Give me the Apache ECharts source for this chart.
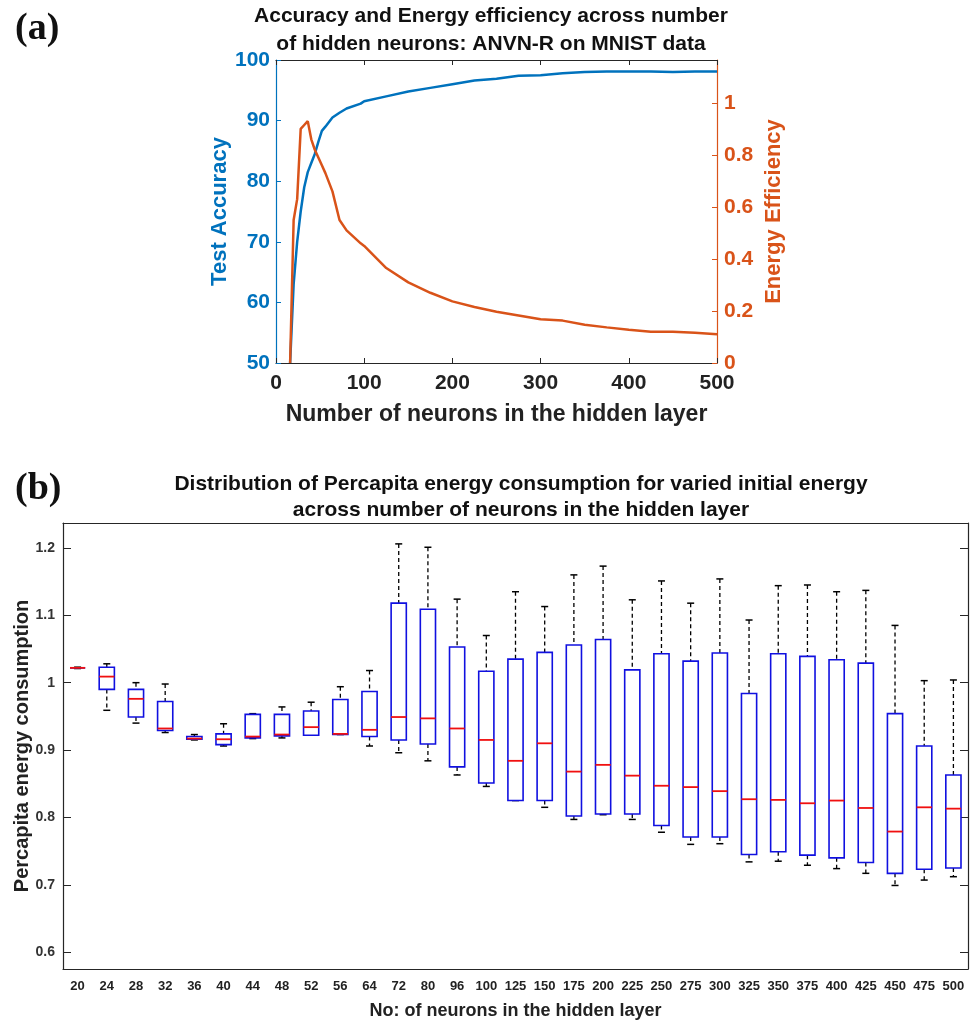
<!DOCTYPE html>
<html>
<head>
<meta charset="utf-8">
<script src="https://cdn.jsdelivr.net/npm/echarts@6/dist/echarts.min.js"></script>
<style>
  html, body { margin: 0; padding: 0; background: #fff; }
  #main { width: 971px; height: 1021px; }
</style>
</head>
<body>
<div id="main"></div>
<script>
// (a) accuracy / efficiency vs hidden neurons
var neurons = [16, 20, 24, 28, 32, 36, 40, 44, 48, 52, 56, 64, 72, 80, 96, 100, 125, 150, 175, 200, 225, 250, 275, 300, 325, 350, 375, 400, 425, 450, 475, 500];
var accuracy = [50, 63, 70, 75, 79, 81.5, 83, 84.5, 86.5, 88.3, 89, 90.5, 91.3, 92, 92.8, 93.2, 94.0, 94.8, 95.4, 96.0, 96.6, 96.9, 97.4, 97.5, 97.8, 98.0, 98.1, 98.1, 98.1, 98.0, 98.1, 98.1];
var efficiency = [0, 0.55, 0.63, 0.90, 0.915, 0.93, 0.86, 0.82, 0.79, 0.76, 0.73, 0.66, 0.55, 0.51, 0.46, 0.45, 0.365, 0.31, 0.27, 0.237, 0.215, 0.197, 0.183, 0.168, 0.163, 0.147, 0.137, 0.128, 0.12, 0.12, 0.116, 0.111];
var effTicks = [0, 0.2, 0.4, 0.6, 0.8, 1];

// (b) box plot per hidden layer size
var categories = ['20', '24', '28', '32', '36', '40', '44', '48', '52', '56', '64', '72', '80', '96', '100', '125', '150', '175', '200', '225', '250', '275', '300', '325', '350', '375', '400', '425', '450', '475', '500'];
var boxMin = [1.021, 0.959, 0.940, 0.926, 0.915, 0.906, 0.917, 0.918, 0.922, 0.923, 0.906, 0.896, 0.884, 0.863, 0.846, 0.825, 0.815, 0.797, 0.804, 0.797, 0.778, 0.760, 0.761, 0.734, 0.735, 0.729, 0.724, 0.717, 0.699, 0.707, 0.712];
var boxQ1 = [1.022, 0.990, 0.949, 0.929, 0.916, 0.908, 0.918, 0.921, 0.922, 0.923, 0.920, 0.915, 0.909, 0.875, 0.851, 0.825, 0.825, 0.802, 0.805, 0.805, 0.788, 0.771, 0.771, 0.745, 0.749, 0.744, 0.740, 0.733, 0.717, 0.723, 0.725];
var boxMed = [1.022, 1.009, 0.976, 0.932, 0.917, 0.916, 0.920, 0.923, 0.934, 0.924, 0.930, 0.949, 0.947, 0.932, 0.915, 0.884, 0.910, 0.868, 0.878, 0.862, 0.847, 0.845, 0.839, 0.827, 0.826, 0.821, 0.825, 0.814, 0.779, 0.815, 0.813];
var boxQ3 = [1.022, 1.023, 0.990, 0.972, 0.920, 0.924, 0.953, 0.953, 0.958, 0.975, 0.987, 1.118, 1.109, 1.053, 1.017, 1.035, 1.045, 1.056, 1.064, 1.019, 1.043, 1.032, 1.044, 0.984, 1.043, 1.039, 1.034, 1.029, 0.954, 0.906, 0.863];
var boxMax = [1.023, 1.028, 1.000, 0.998, 0.923, 0.939, 0.954, 0.964, 0.971, 0.994, 1.018, 1.206, 1.201, 1.124, 1.070, 1.135, 1.113, 1.160, 1.173, 1.123, 1.151, 1.118, 1.154, 1.093, 1.144, 1.145, 1.135, 1.137, 1.085, 1.003, 1.004];
var consTicks = [0.6, 0.7, 0.8, 0.9, 1, 1.1, 1.2];

var chart = echarts.init(document.getElementById('main'));

var font = 'Liberation Sans, Arial, sans-serif';
var serif = 'Liberation Serif, Times New Roman, serif';
var blue = '#0072BD';
var orange = '#D95319';
var frame = '#262626';

var accData = neurons.map(function (n, i) { return [n, accuracy[i]]; });
var effData = neurons.map(function (n, i) { return [n, efficiency[i]]; });
var boxData = categories.map(function (c, i) {
  return [i, boxMin[i], boxQ1[i], boxMed[i], boxQ3[i], boxMax[i]];
});

function renderBox(params, api) {
  var i = api.value(0);
  var band = api.size([1, 0])[0];
  var half = band * 0.26;
  var cap = band * 0.12;
  var pMin = api.coord([i, api.value(1)]);
  var pQ1 = api.coord([i, api.value(2)]);
  var pMed = api.coord([i, api.value(3)]);
  var pQ3 = api.coord([i, api.value(4)]);
  var pMax = api.coord([i, api.value(5)]);
  var x = pMed[0];
  var dash = { stroke: '#000', lineWidth: 1.3, lineDash: [4, 3] };
  var solid = { stroke: '#000', lineWidth: 1.5 };
  return {
    type: 'group',
    children: [
      { type: 'line', shape: { x1: x, y1: pMax[1], x2: x, y2: pQ3[1] }, style: dash },
      { type: 'line', shape: { x1: x, y1: pQ1[1], x2: x, y2: pMin[1] }, style: dash },
      { type: 'line', shape: { x1: x - cap, y1: pMax[1], x2: x + cap, y2: pMax[1] }, style: solid },
      { type: 'line', shape: { x1: x - cap, y1: pMin[1], x2: x + cap, y2: pMin[1] }, style: solid },
      { type: 'rect', shape: { x: x - half, y: pQ3[1], width: half * 2, height: pQ1[1] - pQ3[1] },
        style: { fill: '#fff', stroke: '#1010e0', lineWidth: 1.6 } },
      { type: 'line', shape: { x1: x - half, y1: pMed[1], x2: x + half, y2: pMed[1] },
        style: { stroke: '#f01010', lineWidth: 1.8 } }
    ]
  };
}

var option = {
  backgroundColor: '#fff',
  animation: false,
  title: [
    { text: '(a)', left: 10, top: 5, textStyle: { fontFamily: serif, fontSize: 38, fontWeight: 'bold', color: '#111' } },
    { text: 'Accuracy and Energy efficiency across number\nof hidden neurons: ANVN-R on MNIST data', left: 486, top: -3, textAlign: 'center',
      textStyle: { fontFamily: font, fontSize: 21, fontWeight: 'bold', color: '#111', lineHeight: 28 } },
    { text: '(b)', left: 10, top: 465, textStyle: { fontFamily: serif, fontSize: 38, fontWeight: 'bold', color: '#111' } },
    { text: 'Distribution of Percapita energy consumption for varied initial energy\nacross number of neurons in the hidden layer', left: 516, top: 466, textAlign: 'center',
      textStyle: { fontFamily: font, fontSize: 21, fontWeight: 'bold', color: '#111', lineHeight: 26 } }
  ],
  grid: [
    { left: 276, right: 254, top: 60, height: 303, outerBoundsMode: 'none', containLabel: false },
    { left: 63, right: 3, top: 523, height: 446, outerBoundsMode: 'none', containLabel: false }
  ],
  xAxis: [
    {
      gridIndex: 0, type: 'value', min: 0, max: 500, interval: 100,
      name: 'Number of neurons in the hidden layer', nameLocation: 'middle', nameGap: 40,
      nameTextStyle: { fontFamily: font, fontSize: 23, fontWeight: 'bold', color: '#222' },
      axisLine: { onZero: false, lineStyle: { color: frame, width: 1.2 } },
      axisTick: { inside: true, length: 5, lineStyle: { color: frame } },
      axisLabel: { fontFamily: font, fontSize: 21, fontWeight: 'bold', color: '#222', margin: 10 },
      splitLine: { show: false }
    },
    {
      gridIndex: 0, type: 'value', min: 0, max: 500, interval: 100, position: 'top',
      axisLine: { onZero: false, lineStyle: { color: frame, width: 1.2 } },
      axisTick: { inside: true, length: 5, lineStyle: { color: frame } },
      axisLabel: { show: false }, splitLine: { show: false }
    },
    {
      gridIndex: 1, type: 'category', data: categories,
      name: 'No: of neurons in the hidden layer', nameLocation: 'middle', nameGap: 33,
      nameTextStyle: { fontFamily: font, fontSize: 18, fontWeight: 'bold', color: '#222' },
      axisLine: { onZero: false, lineStyle: { color: frame, width: 1.2 } },
      axisTick: { inside: true, length: 8, alignWithLabel: true, lineStyle: { color: frame } },
      axisLabel: { fontFamily: font, fontSize: 13, fontWeight: 'bold', color: '#222', margin: 11, interval: 0 },
      splitLine: { show: false }
    },
    {
      gridIndex: 1, type: 'category', data: categories, position: 'top',
      axisLine: { onZero: false, lineStyle: { color: frame, width: 1.2 } },
      axisTick: { inside: true, length: 8, alignWithLabel: true, lineStyle: { color: frame } },
      axisLabel: { show: false }, splitLine: { show: false }
    }
  ],
  yAxis: [
    {
      gridIndex: 0, type: 'value', min: 50, max: 100, interval: 10,
      name: 'Test Accuracy', nameLocation: 'middle', nameGap: 44, nameRotate: 90,
      nameTextStyle: { fontFamily: font, fontSize: 22, fontWeight: 'bold', color: blue },
      axisLine: { show: true, onZero: false, lineStyle: { color: blue, width: 1.2 } },
      axisTick: { show: true, inside: true, length: 5, lineStyle: { color: blue } },
      axisLabel: { fontFamily: font, fontSize: 21, fontWeight: 'bold', color: blue, margin: 6 },
      splitLine: { show: false }
    },
    {
      gridIndex: 0, type: 'value', min: 0, max: 1.165, position: 'right',
      name: 'Energy Efficiency', nameLocation: 'middle', nameGap: 46, nameRotate: 90,
      nameTextStyle: { fontFamily: font, fontSize: 22, fontWeight: 'bold', color: orange },
      axisLine: { show: true, onZero: false, lineStyle: { color: orange, width: 1.2 } },
      axisTick: { show: true, inside: true, length: 5, lineStyle: { color: orange }, customValues: effTicks },
      axisLabel: { fontFamily: font, fontSize: 21, fontWeight: 'bold', color: orange, margin: 7,
        customValues: effTicks, formatter: function (v) { return +v.toFixed(1); } },
      splitLine: { show: false }
    },
    {
      gridIndex: 1, type: 'value', min: 0.575, max: 1.237,
      name: 'Percapita energy consumption', nameLocation: 'middle', nameGap: 31, nameRotate: 90,
      nameMoveOverlap: false,
      nameTextStyle: { fontFamily: font, fontSize: 20, fontWeight: 'bold', color: '#222' },
      axisLine: { show: true, onZero: false, lineStyle: { color: frame, width: 1.2 } },
      axisTick: { show: true, inside: true, length: 8, lineStyle: { color: frame }, customValues: consTicks },
      axisLabel: { fontFamily: font, fontSize: 14, fontWeight: 'bold', color: '#333', margin: 8,
        customValues: consTicks, formatter: function (v) { return +v.toFixed(1); } },
      splitLine: { show: false }
    },
    {
      gridIndex: 1, type: 'value', min: 0.575, max: 1.237, position: 'right',
      axisLine: { show: true, onZero: false, lineStyle: { color: frame, width: 1.2 } },
      axisTick: { show: true, inside: true, length: 8, lineStyle: { color: frame }, customValues: consTicks },
      axisLabel: { show: false }, splitLine: { show: false }
    }
  ],
  series: [
    {
      type: 'line', xAxisIndex: 0, yAxisIndex: 0, data: accData,
      showSymbol: false, lineStyle: { color: blue, width: 2.5 }, itemStyle: { color: blue }, z: 3
    },
    {
      type: 'line', xAxisIndex: 0, yAxisIndex: 1, data: effData,
      showSymbol: false, lineStyle: { color: orange, width: 2.5 }, itemStyle: { color: orange }, z: 4
    },
    {
      type: 'custom', xAxisIndex: 2, yAxisIndex: 2, data: boxData,
      renderItem: renderBox, encode: { x: 0, y: [1, 2, 3, 4, 5] }, clip: false
    }
  ]
};

chart.setOption(option);
</script>
</body>
</html>
